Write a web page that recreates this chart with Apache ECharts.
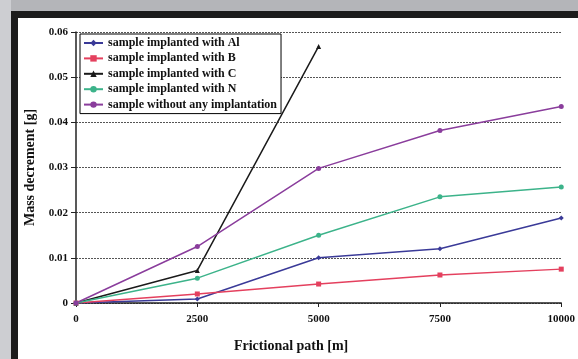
<!DOCTYPE html>
<html>
<head>
<meta charset="utf-8">
<script src="https://cdn.jsdelivr.net/npm/echarts@6/dist/echarts.min.js"></script>
<style>
html,body{margin:0;padding:0;background:#fff;}
#c{width:578px;height:359px;}
</style>
</head>
<body>
<div id="c"></div>
<script>
var paths = [0, 2500, 5000, 7500, 10000];
var seriesNames = ['sample implanted with Al', 'sample implanted with B', 'sample implanted with C', 'sample implanted with N', 'sample without any implantation'];
var valsAl = [0, 0.0009, 0.0100, 0.0120, 0.0188];
var valsB  = [0, 0.0020, 0.0042, 0.0062, 0.0075];
var valsC  = [0, 0.0072, 0.0568];
var valsN  = [0, 0.0055, 0.0150, 0.0235, 0.0257];
var valsW  = [0, 0.0125, 0.0298, 0.0382, 0.0435];
var colors = ['#3a3a98', '#e4405e', '#1a1a1a', '#3cb38a', '#8a3d9c'];
var symbols = ['diamond', 'rect', 'triangle', 'circle', 'circle'];
var allVals = [valsAl, valsB, valsC, valsN, valsW];

function pairs(v){ return v.map(function(y,i){ return [paths[i], y]; }); }

var font = '"Liberation Serif", "DejaVu Serif", serif';
var chart = echarts.init(document.getElementById('c'), null, {renderer:'canvas'});
chart.setOption({
  backgroundColor: '#ffffff',
  animation: false,
  color: colors,
  graphic: [
    {type:'rect', z:-10, shape:{x:0,y:0,width:578,height:11}, style:{fill:'#b4b5b9'}},
    {type:'rect', z:-10, shape:{x:0,y:0,width:11,height:359}, style:{fill:'#cdced2'}},
    {type:'rect', z:-10, shape:{x:11,y:11,width:567,height:7}, style:{fill:'#1c1c1c'}},
    {type:'rect', z:-10, shape:{x:11,y:11,width:7,height:348}, style:{fill:'#1c1c1c'}}
  ],
  grid: {left:76, right:15, top:32, bottom:56, containLabel:false},
  legend: {
    orient:'vertical', left:80, top:34,
    padding:[3,4,3,3], itemGap:3.4, itemWidth:19, itemHeight:8,
    borderColor:'#000', borderWidth:1, backgroundColor:'#fff',
    textStyle:{fontFamily:font, fontWeight:'bold', fontSize:12, color:'#111', lineHeight:12},
    data: seriesNames
  },
  xAxis: {
    type:'value', min:0, max:10000, interval:2500,
    name:'Frictional path [m]', nameLocation:'middle', nameGap:36,
    nameTextStyle:{fontFamily:font, fontWeight:'bold', fontSize:14, color:'#111', padding:[0,55,0,0]},
    axisLine:{show:true, lineStyle:{color:'#222', width:1.5}},
    axisTick:{show:true, length:4, lineStyle:{color:'#222'}},
    axisLabel:{fontFamily:font, fontWeight:'bold', fontSize:11, color:'#111', margin:11,
      formatter:function(v){ return String(v); }},
    splitLine:{show:false}
  },
  yAxis: {
    type:'value', min:0, max:0.06, interval:0.01,
    name:'Mass decrement [g]', nameLocation:'middle', nameGap:37,
    nameTextStyle:{fontFamily:font, fontWeight:'bold', fontSize:14, color:'#111'},
    axisLine:{show:true, lineStyle:{color:'#222', width:1.5}},
    axisTick:{show:true, length:5, lineStyle:{color:'#222'}},
    axisLabel:{fontFamily:font, fontWeight:'bold', fontSize:11, color:'#111', margin:8,
      formatter:function(v){ return v === 0 ? '0' : v.toFixed(2); }},
    splitLine:{show:true, lineStyle:{color:'#555', type:[2,1], width:1}}
  },
  series: allVals.map(function(v,i){
    return {
      name: seriesNames[i], type:'line', data: pairs(v),
      symbol: symbols[i], symbolSize: 5,
      lineStyle:{width:1.5, color:colors[i]},
      itemStyle:{color:colors[i]}
    };
  })
});
</script>
</body>
</html>
